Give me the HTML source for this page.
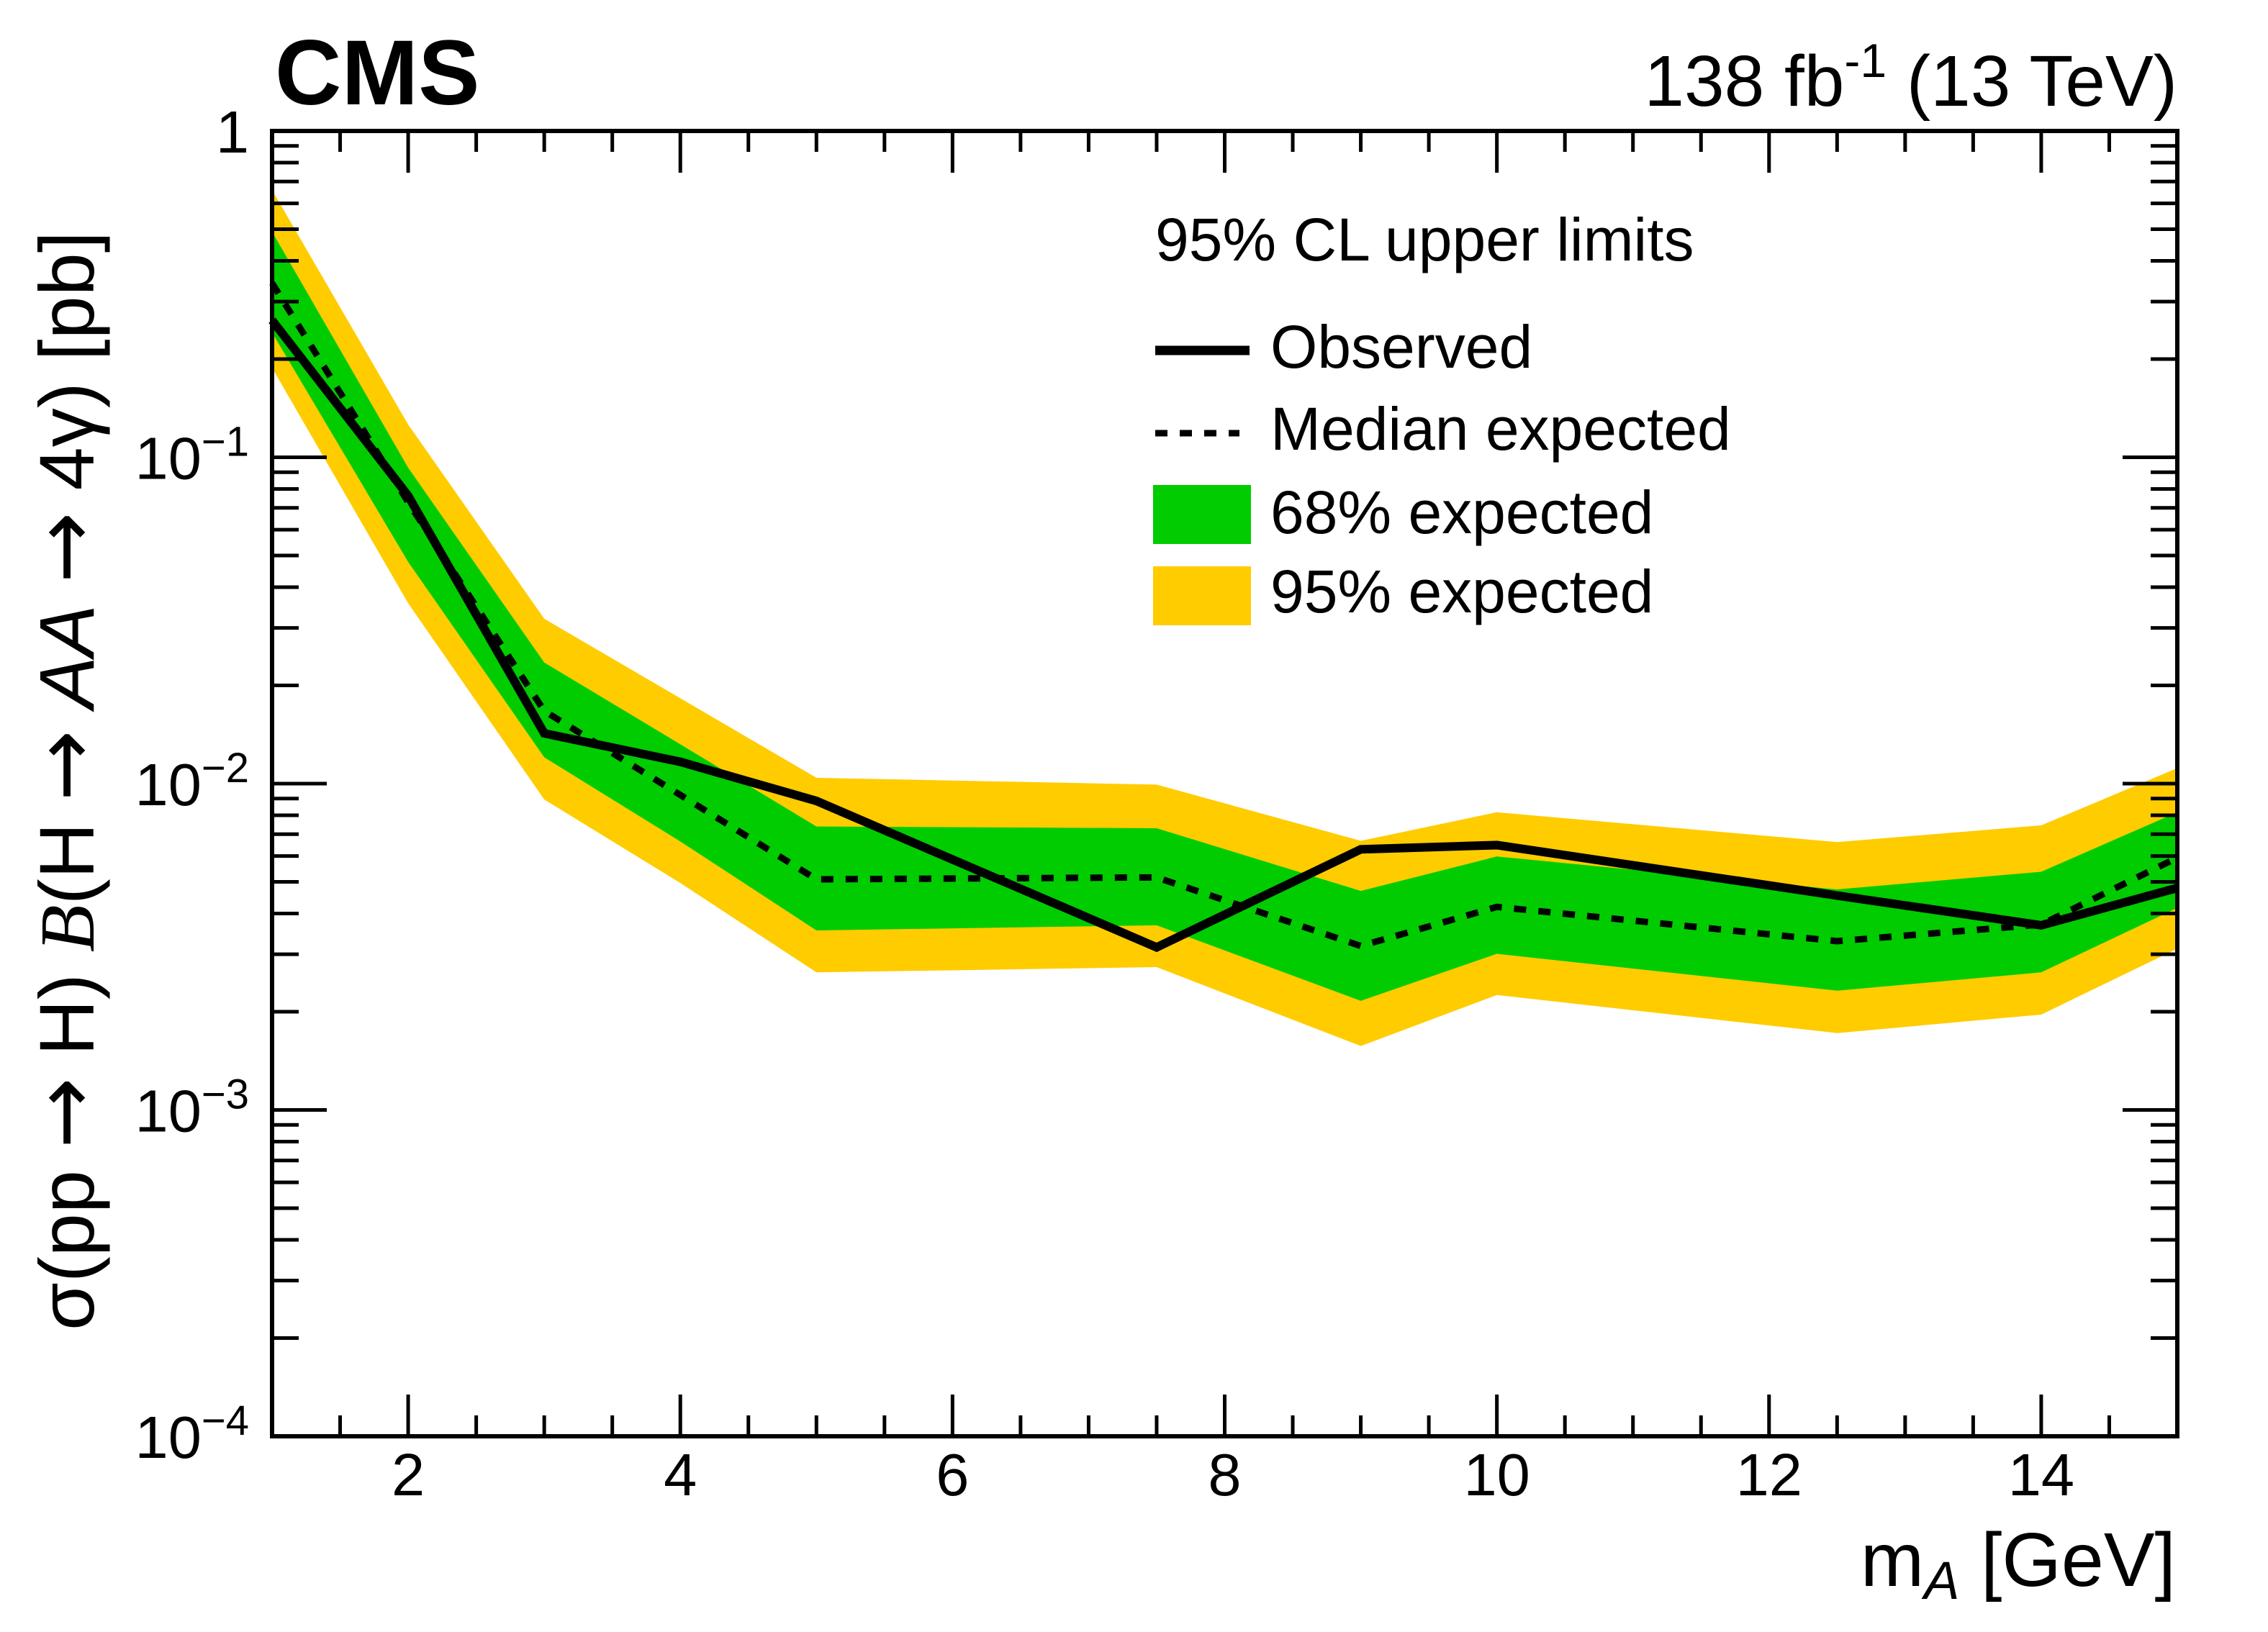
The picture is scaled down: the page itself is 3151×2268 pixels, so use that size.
<!DOCTYPE html>
<html><head><meta charset="utf-8"><style>
html,body{margin:0;padding:0;background:#fff}
svg{display:block}
text{font-family:"Liberation Sans",sans-serif;fill:#000}
.arr{font-family:"DejaVu Sans",sans-serif}
</style></head><body>
<svg id="chart" width="3151" height="2268" viewBox="0 0 3151 2268" xmlns="http://www.w3.org/2000/svg">
<g id="bands"></g>
<g id="lines"></g>
<g id="axes"></g>
<text x="382" y="145" font-size="128" font-weight="bold">CMS</text>
<text x="3025" y="147" font-size="100" text-anchor="end">138 fb<tspan dy="-40" font-size="66">-1</tspan><tspan dy="40"> (13 TeV)</tspan></text>
<text x="3023" y="2204" font-size="106" text-anchor="end">m<tspan font-style="italic" font-size="74" dy="18">A</tspan><tspan dy="-18"> [GeV]</tspan></text>
<text transform="translate(130,1085) rotate(-90)" font-size="108" text-anchor="middle">σ(pp <tspan class="arr" font-size="118">→</tspan> H) <tspan font-family="'Liberation Serif',serif" font-style="italic">B</tspan>(H <tspan class="arr" font-size="118">→</tspan> <tspan font-style="italic">AA</tspan> <tspan class="arr" font-size="118">→</tspan> 4γ) [pb]</text>
<g>
<text x="1605" y="362" font-size="84">95% CL upper limits</text>
<line x1="1605" y1="487" x2="1736" y2="487" stroke="#000" stroke-width="13"/>
<text x="1765" y="511" font-size="84">Observed</text>
<line x1="1605" y1="602" x2="1722" y2="602" stroke="#000" stroke-width="9" stroke-dasharray="17,17"/>
<text x="1765" y="625" font-size="84">Median expected</text>
<rect x="1602" y="674" width="136" height="82" fill="#00cc00"/>
<text x="1765" y="741" font-size="84">68% expected</text>
<rect x="1602" y="787" width="136" height="82" fill="#ffcc00"/>
<text x="1765" y="851" font-size="84">95% expected</text>
</g>
</svg>
<script>
const masses=[1,2,3,4,5,7.5,9,10,12.5,14,15];
const observed=[0.263,0.0762,0.01426,0.01166,0.00885,0.00315,0.00629,0.00648,0.00454,0.00368,0.00479];
const median=[0.342,0.0728,0.0167,0.00923,0.00509,0.00516,0.00318,0.00419,0.00329,0.00370,0.00593];
const g68Up=[0.491,0.0929,0.0235,0.0132,0.00739,0.00730,0.00469,0.00598,0.00474,0.00537,0.00817];
const g68Dn=[0.241,0.0478,0.01204,0.00665,0.00355,0.00368,0.00216,0.00301,0.00232,0.00264,0.00416];
const y95Up=[0.659,0.126,0.0320,0.01826,0.01042,0.00993,0.00668,0.00817,0.00662,0.00745,0.01115];
const y95Dn=[0.188,0.0357,0.00894,0.00496,0.00264,0.00274,0.00157,0.00225,0.00172,0.00196,0.00312];
const xTicks=[2,4,6,8,10,12,14];
const yDecades=[0,-1,-2,-3,-4];

const L=378,R=3025,T=182,B=1996,XMIN=1,XMAX=15,YMAXE=0,YMINE=-4;
const NS="http://www.w3.org/2000/svg";
function X(v){return L+(v-XMIN)/(XMAX-XMIN)*(R-L);}
function Y(v){return T+(YMAXE-Math.log10(v))/(YMAXE-YMINE)*(B-T);}
function mk(tag,attrs,parent){const e=document.createElementNS(NS,tag);for(const k in attrs)e.setAttribute(k,attrs[k]);parent.appendChild(e);return e;}
const bands=document.getElementById('bands'),lines=document.getElementById('lines'),axes=document.getElementById('axes');
function band(up,dn,col,name){
  let pts=masses.map((m,i)=>X(m)+','+Y(up[i]));
  for(let i=masses.length-1;i>=0;i--)pts.push(X(masses[i])+','+Y(dn[i]));
  const p=mk('polygon',{points:pts.join(' '),fill:col},bands);
  
  
}
band(y95Up,y95Dn,'#ffcc00','band-95');
band(g68Up,g68Dn,'#00cc00','band-68');
function line(vals,name,extra){
  const a={points:masses.map((m,i)=>X(m)+','+Y(vals[i])).join(' '),fill:'none',stroke:'#000','stroke-linejoin':'miter'};
  Object.assign(a,extra);
  const p=mk('polyline',a,lines);
  
  
}
line(median,'median-expected-line',{'stroke-width':9,'stroke-dasharray':'17,17'});
line(observed,'observed-line',{'stroke-width':12});
const fr=mk('rect',{x:L,y:T,width:R-L,height:B-T,fill:'none',stroke:'#000','stroke-width':6},axes);


for(let v=1.5;v<15;v+=0.5){
  const major=Math.abs(v%2)<1e-9;const len=major?58:29;const x=X(v);
  const t1=mk('line',{x1:x,y1:B,x2:x,y2:B-len,stroke:'#000','stroke-width':5},axes);
  
  
  const t2=mk('line',{x1:x,y1:T,x2:x,y2:T+len,stroke:'#000','stroke-width':5},axes);
  
  
}
xTicks.forEach(v=>{
  const t=mk('text',{x:X(v),y:2078,'font-size':83,'text-anchor':'middle'},axes);
  t.textContent=String(v);
  
  
});
for(let e=YMINE;e<=YMAXE;e++){
  for(let k=1;k<=9;k++){
    if(e===YMAXE&&k>1)break;
    const y=Y(k*Math.pow(10,e));const len=k===1?76:37;
    const a=mk('line',{x1:L,y1:y,x2:L+len,y2:y,stroke:'#000','stroke-width':5},axes);
    
    
    const b=mk('line',{x1:R,y1:y,x2:R-len,y2:y,stroke:'#000','stroke-width':5},axes);
    
    
  }
}
yDecades.forEach(e=>{
  const y=Y(Math.pow(10,e));
  const t=mk('text',{x:346,y:y+30,'font-size':83,'text-anchor':'end'},axes);
  
  
  if(e===0){t.textContent='1';}
  else{
    const s1=mk('tspan',{},t);s1.textContent='10';
    const s2=mk('tspan',{dy:-32,'font-size':58},t);s2.textContent='\u2212'+(-e);
  }
});
</script>
</body></html>
